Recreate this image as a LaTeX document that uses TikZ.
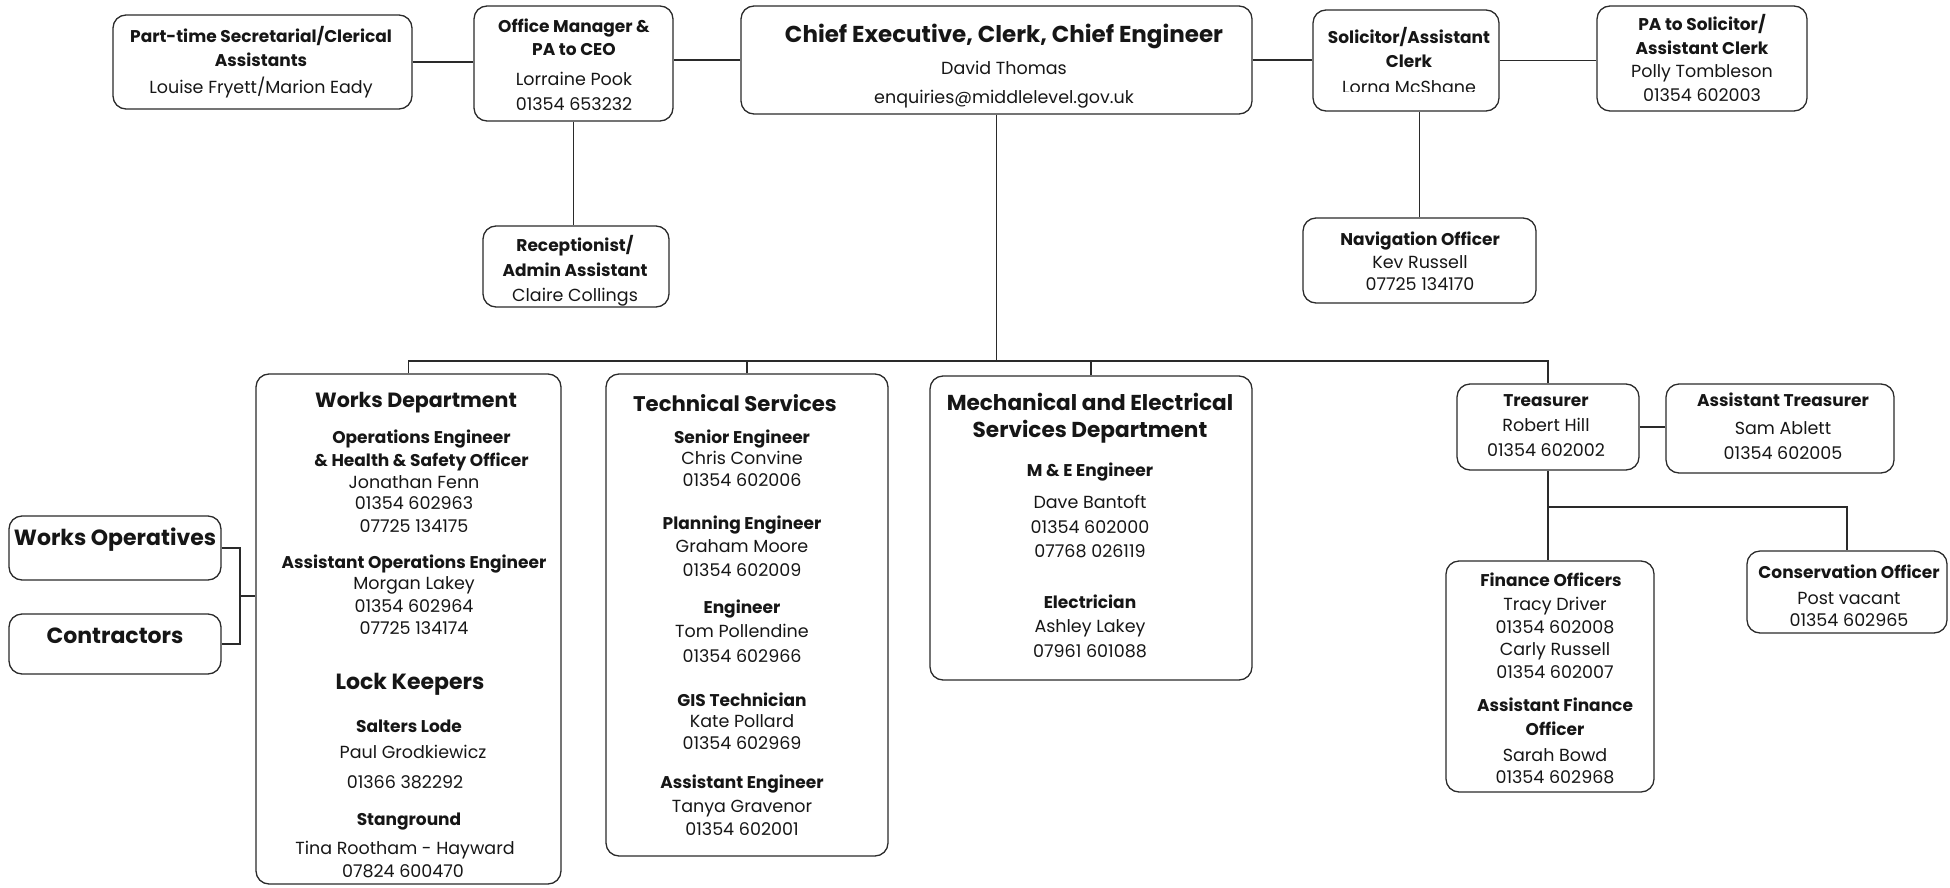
\documentclass[tikz,border=0pt]{standalone}
\usepackage{fontspec}
\setmainfont{Poppins}
\usetikzlibrary{fit}
\definecolor{ink}{HTML}{161616}
\definecolor{edge}{HTML}{2A2A2A}
\newcommand\myN{\fontsize{17.5}{22.5}\selectfont\mdseries}
\newcommand\myB{\fontsize{17}{22.5}\selectfont\bfseries}
\newcommand\myT{\fontsize{22}{22.5}\selectfont\bfseries}
\newcommand\myTs[1]{\fontsize{#1}{22.5}\selectfont\bfseries}
\newcommand\myC{\fontsize{23}{22.5}\selectfont\bfseries}
\newcommand\myRt[1]{\mbox{}\kern#1}
\begin{document}
\begin{tikzpicture}[x=1pt,y=-1pt,
  box/.style={draw=edge, line width=1.3pt, rounded corners=13pt, inner sep=0pt},
  txt/.style={anchor=north, inner sep=0pt, align=center, text=ink, font=\myN},
  wire/.style={draw=edge, line width=1.3pt}]
\useasboundingbox (0,0) rectangle (1950,888);
% boxes
\node[box, fit={(113,15)(412,109)}] (pt) {};
\node[box, fit={(474,6)(673,121)}] (om) {};
\node[box, fit={(741,6)(1252,114)}] (ceo) {};
\node[box, fit={(1313,10)(1499,111)}] (sol) {};
\node[box, fit={(1597,6)(1807,111)}] (pa) {};
\node[box, fit={(483,226)(669,307)}] (rec) {};
\node[box, fit={(1303,218)(1536,303)}] (nav) {};
\node[box, fit={(256,374)(561,884)}] (ws) {};
\node[box, fit={(606,374)(888,856)}] (ts) {};
\node[box, fit={(930,376)(1252,680)}] (me) {};
\node[box, fit={(1457,384)(1639,470)}] (tr) {};
\node[box, fit={(1666,384)(1894,473)}] (at) {};
\node[box, fit={(1446,561)(1654,792)}] (fo) {};
\node[box, fit={(1747,551)(1947,633)}] (co) {};
\node[box, fit={(9,516)(221,580)}, font=\myT, text=ink] (wo) {Works Operatives};
\node[box, fit={(9,614)(221,674)}, font=\myT, text=ink] (ct) {Contractors};
% texts
\node[txt] (pt-t) at (261,26.25) {\myB\strut Part-time Secretarial/Clerical\\[1.5pt] \myB Assistants\\[4pt] \myN Louise Fryett/Marion Eady};
\node[txt] (om-t) at (574,16.75) {\myB\strut Office Manager \&\\ \myB PA to CEO\\[8pt] \myN Lorraine Pook\\[2.5pt] \myN 01354 653232};
\node[txt] (ceo-t) at (1004,23.75) {\myC\strut Chief Executive, Clerk, Chief Engineer\\[10pt] \myN David Thomas\\[6pt] \myN enquiries@middlelevel.gov.uk};
\begin{scope}
\clip (1300,0) rectangle (1510,91.5);
\node[txt] (sol-t) at (1409,27.25) {\myB\strut Solicitor/Assistant\\[1.5pt] \myB Clerk\\[3.5pt] \myN Lorna McShane};
\end{scope}
\node[txt] (pa-t) at (1702,14.25) {\myB\strut PA to Solicitor/\\[1.2pt] \myB Assistant Clerk\\[1.2pt] \myN Polly Tombleson\\[1.1pt] \myN 01354 602003};
\node[txt] (rec-t) at (575,235.25) {\myB\strut Receptionist/\\[2.5pt] \myB Admin Assistant\\[2.5pt] \myN Claire Collings};
\node[txt] (nav-t) at (1420,229.25) {\myB\strut Navigation Officer\\[1.1pt] \myN Kev Russell\\[-1.1pt] \myN 07725 134170};
\node[txt] (ws-t) at (414,391.25) {\myTs{20.6}\strut\myRt{4pt}Works Department\\[13.5pt]
  \myB\myRt{15pt}Operations Engineer\\[0.5pt]
  \myB\myRt{15pt}\& Health \& Safety Officer\\[-0.5pt]
  \myN Jonathan Fenn\\[-1.5pt] \myN 01354 602963\\[0.5pt] \myN 07725 134175\\[13.5pt]
  \myB Assistant Operations Engineer\\[-1.5pt]
  \myN Morgan Lakey\\[0.5pt] \myN 01354 602964\\[-0.5pt] \myN 07725 134174\\[33.2pt]
  \myT Lock Keepers\myRt{8pt}\\[19.8pt]
  \myB Salters Lode\myRt{10pt}\\[3.5pt]
  \myN Paul Grodkiewicz\myRt{2pt}\\[7.5pt] \myN 01366 382292\myRt{18pt}\\[14.5pt]
  \myB Stanground\myRt{10pt}\\[6.5pt]
  \myN Tina Rootham - Hayward\myRt{18pt}\\[0.5pt] \myN 07824 600470\myRt{22pt}};
\node[txt] (ts-h) at (735,394.65) {\myTs{21.2}\strut Technical Services};
\node[txt] (ts-t) at (742,427.25) {\myB\strut Senior Engineer\\[-1.5pt]
  \myN Chris Convine\\[0.2pt] \myN 01354 602006\\[19.8pt]
  \myB Planning Engineer\\[1.2pt]
  \myN Graham Moore\\[0.8pt] \myN 01354 602009\\[14.5pt]
  \myB Engineer\\[2.2pt]
  \myN Tom Pollendine\\[1.8pt] \myN 01354 602966\\[21.5pt]
  \myB GIS Technician\\[-1.5pt]
  \myN Kate Pollard\\[-0.2pt] \myN 01354 602969\\[16.9pt]
  \myB Assistant Engineer\\[1.5pt]
  \myN Tanya Gravenor\\[0.1pt] \myN 01354 602001};
\node[txt] (me-t) at (1090,392.85) {\myTs{21.6}\strut Mechanical and Electrical\\[2.5pt] \myTs{21.6}Services Department\\[15.9pt]
  \myB M \& E Engineer\\[9.5pt]
  \myN Dave Bantoft\\[2.5pt] \myN 01354 602000\\[1.5pt] \myN 07768 026119\\[28.5pt]
  \myB Electrician\\[1.5pt]
  \myN Ashley Lakey\\[2.5pt] \myN 07961 601088};
\node[txt] (tr-t) at (1546,390.25) {\myB\strut Treasurer\\[2.5pt] \myN Robert Hill\\[3.2pt] \myN 01354 602002};
\node[txt] (at-t) at (1783,390.25) {\myB\strut Assistant Treasurer\\[5.5pt] \myN Sam Ablett\\[2.5pt] \myN 01354 602005};
\node[txt] (fo-t) at (1555,570.25) {\myB\strut Finance Officers\myRt{8pt}\\[1.5pt] \myN Tracy Driver\\[0.5pt] \myN 01354 602008\\[-0.5pt] \myN Carly Russell\\[0.5pt] \myN 01354 602007\\[10.5pt]
  \myB Assistant Finance\\[1.5pt] \myB Officer\\[3.5pt] \myN Sarah Bowd\\[-0.5pt] \myN 01354 602968};
\node[txt] (co-t) at (1849,562.25) {\myB\strut Conservation Officer\\[3.5pt] \myN Post vacant\\[-0.5pt] \myN 01354 602965};
% connectors
\coordinate (bus) at (997,361);
\coordinate (br) at (1548,507);
\coordinate (jn) at (240,596);
\draw[wire] (pt.east) -- (pt.east -| om.west);
\draw[wire] (ceo.west) -- (ceo.west -| om.east);
\draw[wire] (ceo.east) -- (ceo.east -| sol.west);
\draw[wire] (sol.east) -- (sol.east -| pa.west);
\draw[wire] (om.south) -- (om.south |- rec.north);
\draw[wire] (nav.north) -- (nav.north |- sol.south);
\draw[wire] (ceo.south) -- (ceo.south |- bus);
\draw[wire] (ws.north) -- (ws.north |- bus) -- (tr.north |- bus) -- (tr.north);
\draw[wire] (ts.north) -- (ts.north |- bus);
\draw[wire] (me.north) -- (me.north |- bus);
\draw[wire] (tr.east) -- (tr.east -| at.west);
\draw[wire] (tr.south) -- (tr.south |- fo.north);
\draw[wire] (tr.south |- br) -| (co.north);
\draw[wire] (wo.east) -| (jn) |- (ct.east);
\draw[wire] (jn) -- (jn -| ws.west);
\end{tikzpicture}
\end{document}
